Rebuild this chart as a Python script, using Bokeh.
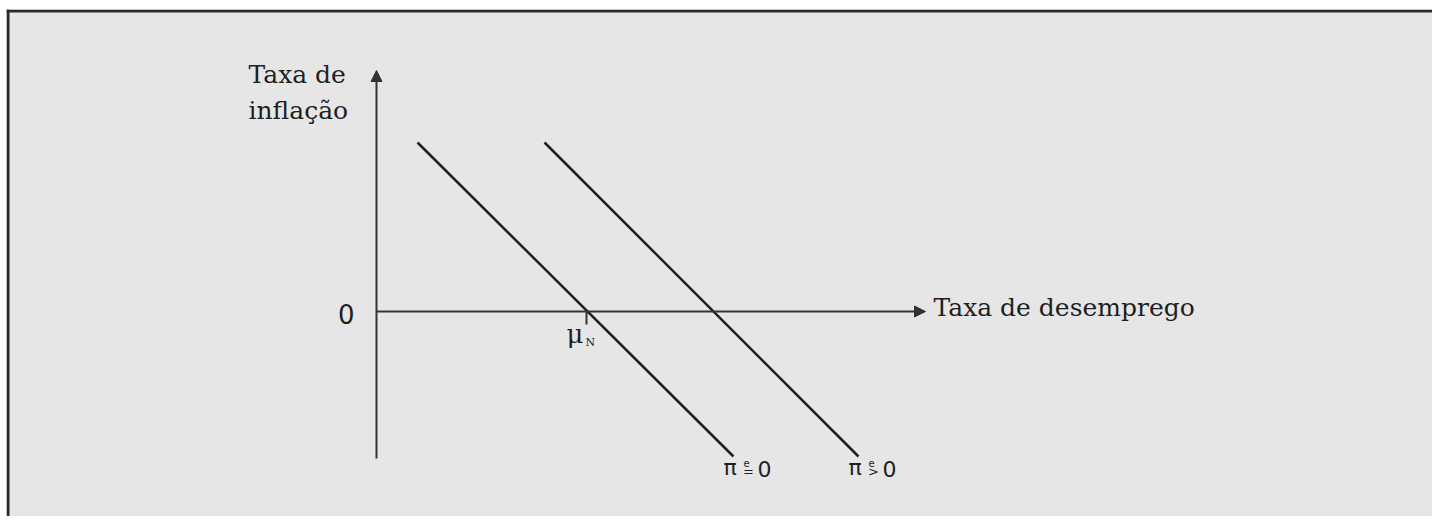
from bokeh.plotting import figure
from bokeh.models import Range1d, Arrow, NormalHead, Span
from bokeh.core.properties import value
from bokeh.embed import file_html
from bokeh.resources import INLINE

# ---- data (economic units) ----
curve_labels = ["=", ">"]
u_curve1 = [0.82, 7.14]
pi_curve1 = [3.38, -2.90]
u_curve2 = [3.36, 9.64]
pi_curve2 = [3.38, -2.90]
mu_N = 4.2
y_axis_span = [-2.94, 4.82]
x_axis_end = 10.98

INK = "#1f1f1f"
AXIS = "#333333"
BG = "#e6e6e6"
W, H = 1432, 516
XR = (-7.40, 21.12)
YR = (-4.10, 6.04)
DY = 0.20  # text baseline correction

p = figure(width=W, height=H, output_backend="svg", toolbar_location=None,
           x_range=Range1d(*XR), y_range=Range1d(*YR),
           min_border=0, min_border_left=6, min_border_top=9,
           min_border_right=0, min_border_bottom=0,
           background_fill_color=BG, border_fill_color="white",
           outline_line_color=None)
p.axis.visible = False
p.grid.visible = False

# frame borders (top and left)
p.add_layout(Span(location=XR[0] + 0.03, dimension="height", line_color="#2a2a2a", line_width=3))
p.add_layout(Span(location=YR[1] - 0.03, dimension="width", line_color="#2a2a2a", line_width=3))

# axes with arrows
p.add_layout(Arrow(end=NormalHead(size=11, fill_color=AXIS, line_color=AXIS, line_width=1),
                   x_start=0, y_start=y_axis_span[0], x_end=0, y_end=y_axis_span[1],
                   line_color=AXIS, line_width=2))
p.add_layout(Arrow(end=NormalHead(size=11, fill_color=AXIS, line_color=AXIS, line_width=1),
                   x_start=0, y_start=0, x_end=x_axis_end, y_end=0,
                   line_color=AXIS, line_width=2))

# Phillips curves
p.line(u_curve1, pi_curve1, line_color=INK, line_width=2.5)
p.line(u_curve2, pi_curve2, line_color=INK, line_width=2.5)

# tick at natural rate
p.segment(x0=[mu_N], y0=[0], x1=[mu_N], y1=[-0.26], line_color=AXIS, line_width=2)

serif = value("DejaVu Serif")
sans = value("DejaVu Sans")

# axis titles
p.text(x=[-2.56], y=[4.54 + DY], text=["Taxa de"], text_font=serif, text_font_size="25px",
       text_color=INK, text_baseline="alphabetic", text_align="left")
p.text(x=[-2.56], y=[3.82 + DY], text=["inflação"], text_font=serif, text_font_size="25px",
       text_color=INK, text_baseline="alphabetic", text_align="left")
p.text(x=[x_axis_end + 0.16], y=[-0.12 + DY], text=["Taxa de desemprego"], text_font=serif,
       text_font_size="25px", text_color=INK, text_baseline="alphabetic", text_align="left")

# zero label
p.text(x=[-0.44], y=[-0.24 + DY], text=["0"], text_font=sans, text_font_size="26px",
       text_color=INK, text_baseline="alphabetic", text_align="right")

# mu_N label
p.text(x=[mu_N - 0.40], y=[-0.64 + DY], text=["μ"], text_font=serif,
       text_font_size="26px", text_color=INK, text_baseline="alphabetic", text_align="left")
p.text(x=[mu_N - 0.02], y=[-0.82 + DY], text=["N"], text_font=serif,
       text_font_size="11px", text_color=INK, text_baseline="alphabetic", text_align="left")

# curve labels
for xe, sym in zip([u_curve1[1], u_curve2[1]], curve_labels):
    x0 = xe - 0.2
    p.text(x=[x0], y=[-3.32 + DY], text=["π"], text_font=sans, text_font_size="22px",
           text_color=INK, text_baseline="alphabetic", text_align="left")
    p.text(x=[x0 + 0.40], y=[-3.22 + DY], text=["e"], text_font=sans, text_font_size="10px",
           text_color=INK, text_baseline="alphabetic", text_align="left")
    p.text(x=[x0 + 0.39], y=[-3.40 + DY], text=[sym], text_font=sans, text_font_size="13px",
           text_color=INK, text_baseline="alphabetic", text_align="left")
    p.text(x=[x0 + 0.68], y=[-3.34 + DY], text=["0"], text_font=sans, text_font_size="22px",
           text_color=INK, text_baseline="alphabetic", text_align="left")

open("out.html", "w").write(file_html(p, INLINE))
